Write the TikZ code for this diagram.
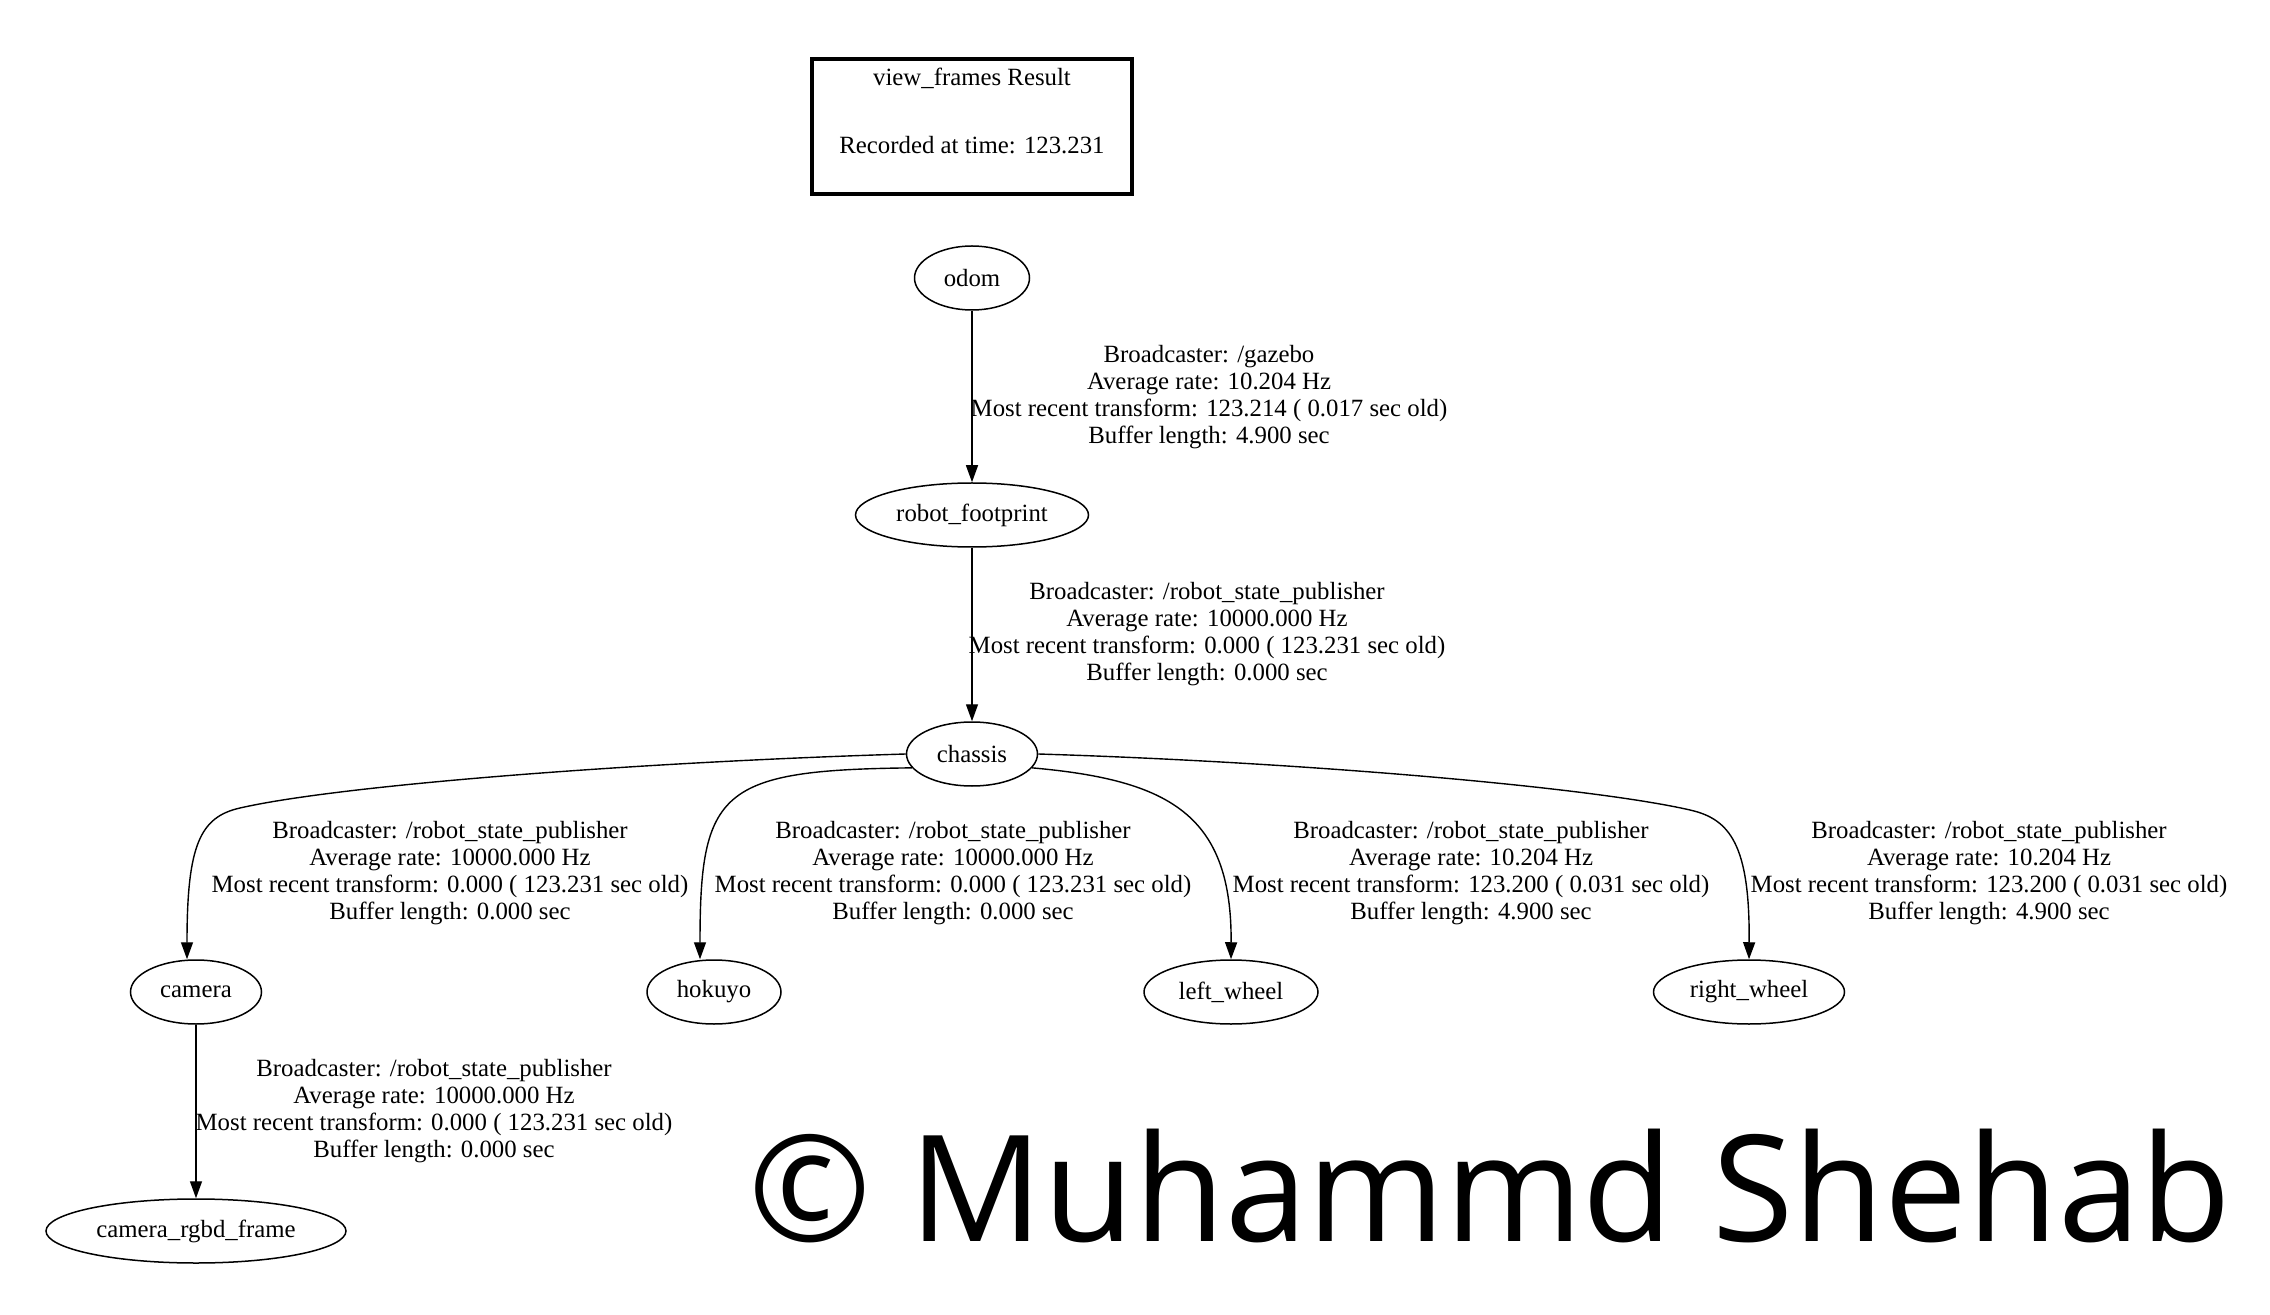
\documentclass[tikz,border=0pt]{standalone}
\usepackage{fontspec}
\setmainfont{Liberation Serif}
\newfontfamily\markfont{Open Sans}
\usetikzlibrary{shapes.geometric, arrows.meta}

\begin{document}
\begin{tikzpicture}[x=0.5pt, y=-0.5pt,
    frame/.style={draw, ellipse, line width=0.75pt, inner sep=0pt, minimum height=32pt,
      font=\fontsize{12.4}{13.5}\selectfont},
    info/.style={align=center, inner sep=0pt, font=\fontsize{12.4}{13.5}\selectfont},
    tf/.style={line width=0.7pt, -{Triangle[length=8.5pt, width=6pt]}}]
    \useasboundingbox (0,0) rectangle (2270,1315);

    \node [draw, line width=2.2pt, minimum width=159.8pt, minimum height=67.3pt] (result) at (972,126.5) {};
    \node [info] (resulttitle) at (972,78) {view\_frames Result};
    \node [info] (resulttime) at (972,145) {Recorded at time: 123.231};

    \node [frame, minimum width=57.5pt] (odom) at (972,278) {odom};
    \node [frame, minimum width=116.5pt] (footprint) at (972,515) {robot\_footprint};
    \node [frame, minimum width=65.5pt] (chassis) at (972,754) {chassis};
    \node [frame, minimum width=65.5pt] (camera) at (196,992) {camera};
    \node [frame, minimum width=67pt] (hokuyo) at (714,992) {hokuyo};
    \node [frame, minimum width=87pt] (leftwheel) at (1231,992) {left\_wheel};
    \node [frame, minimum width=95.5pt] (rightwheel) at (1749,992) {right\_wheel};
    \node [frame, minimum width=150pt] (rgbd) at (196,1231) {camera\_rgbd\_frame};

    \draw [tf] (odom) to (footprint);
    \draw [tf] (footprint) to (chassis);
    \draw [tf] (camera) to (rgbd);
    \draw [tf] (chassis.west) .. controls (640,762) and (340,785) .. (240,808)
      .. controls (200,817) and (187,845) .. ([xshift=-4.5pt]camera.north);
    \draw [tf] (chassis.193) .. controls (720,770) and (700,790) .. ([xshift=-7pt]hokuyo.north);
    \draw [tf] (chassis.-13) .. controls (1170,780) and (1232,815) .. (leftwheel.north);
    \draw [tf] (chassis.east) .. controls (1300,762) and (1590,787) .. (1690,810)
      .. controls (1730,819) and (1750,845) .. (rightwheel.north);

    \node [info] (odominfo) at (1209,397) {Broadcaster: /gazebo\\Average rate: 10.204 Hz\\Most recent transform: 123.214 ( 0.017 sec old)\\Buffer length: 4.900 sec};
    \node [info] (footprintinfo) at (1207,634) {Broadcaster: /robot\_state\_publisher\\Average rate: 10000.000 Hz\\Most recent transform: 0.000 ( 123.231 sec old)\\Buffer length: 0.000 sec};
    \node [info] (camerainfo) at (450,873) {Broadcaster: /robot\_state\_publisher\\Average rate: 10000.000 Hz\\Most recent transform: 0.000 ( 123.231 sec old)\\Buffer length: 0.000 sec};
    \node [info] (hokuyoinfo) at (953,873) {Broadcaster: /robot\_state\_publisher\\Average rate: 10000.000 Hz\\Most recent transform: 0.000 ( 123.231 sec old)\\Buffer length: 0.000 sec};
    \node [info] (leftinfo) at (1471,873) {Broadcaster: /robot\_state\_publisher\\Average rate: 10.204 Hz\\Most recent transform: 123.200 ( 0.031 sec old)\\Buffer length: 4.900 sec};
    \node [info] (rightinfo) at (1989,873) {Broadcaster: /robot\_state\_publisher\\Average rate: 10.204 Hz\\Most recent transform: 123.200 ( 0.031 sec old)\\Buffer length: 4.900 sec};
    \node [info] (rgbdinfo) at (434,1111) {Broadcaster: /robot\_state\_publisher\\Average rate: 10000.000 Hz\\Most recent transform: 0.000 ( 123.231 sec old)\\Buffer length: 0.000 sec};

    \node [font=\markfont\fontsize{74}{74}\selectfont, anchor=base west, inner sep=0pt] (mark) at (748,1241) {© Muhammd Shehab};
\end{tikzpicture}
\end{document}
